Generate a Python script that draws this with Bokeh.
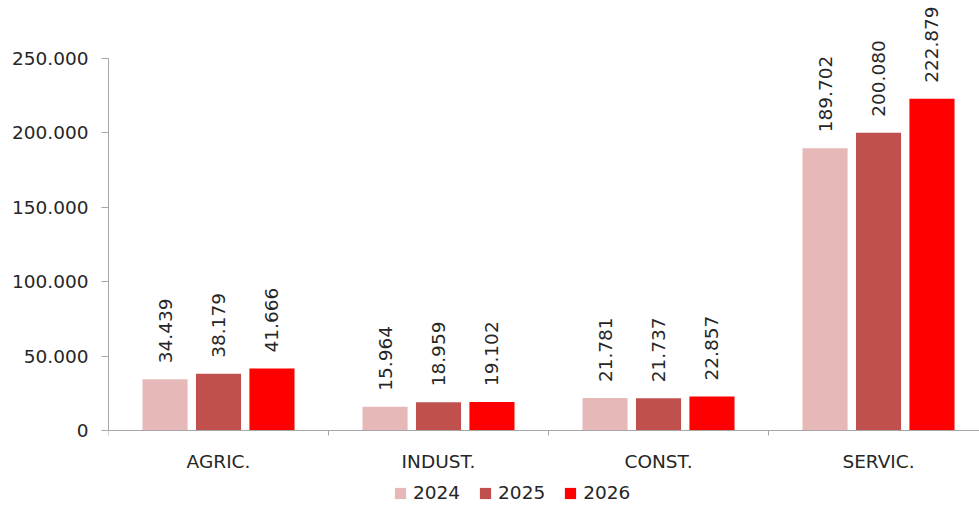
import numpy as np
from bokeh.plotting import figure
from bokeh.models import Range1d, FixedTicker, LabelSet, ColumnDataSource, Legend, LegendItem
from bokeh.transform import dodge
from bokeh.core.properties import value
from bokeh.embed import file_html
from bokeh.resources import INLINE

categories = ["AGRIC.", "INDUST.", "CONST.", "SERVIC."]
years = ["2024", "2025", "2026"]
v2024 = [34439, 15964, 21781, 189702]
v2025 = [38179, 18959, 21737, 200080]
v2026 = [41666, 19102, 22857, 222879]
colors = ["#E6B9B8", "#C0504D", "#FF0000"]
yticks = [0, 50000, 100000, 150000, 200000, 250000]
ytick_labels = ["0", "50.000", "100.000", "150.000", "200.000", "250.000"]


def fmt(v):
    return f"{v:,}".replace(",", ".")


centers = [i + 0.5 for i in range(len(categories))]
bounds = list(range(len(categories) + 1))

FONT = "DejaVu Sans"
FS = "18.5px"
TXT = "#262626"
AX = "#A6A6A6"

p = figure(width=979, height=506, output_backend="svg", toolbar_location=None,
           x_range=Range1d(0, 3.959), y_range=Range1d(-51075, 288978),
           min_border_left=108, min_border_right=0, min_border_top=0,
           min_border_bottom=0)
p.outline_line_color = None
p.grid.visible = False
p.background_fill_color = "white"
p.border_fill_color = "white"

series = [v2024, v2025, v2026]
offsets = [-0.243, 0.0, 0.243]
renderers = []
for yr, vals, col, off in zip(years, series, colors, offsets):
    src = ColumnDataSource(dict(x=centers, top=vals, lab=[fmt(v) for v in vals]))
    r = p.vbar(x=dodge("x", off), top="top", bottom=0, width=0.205, source=src,
               fill_color=col, line_color=None)
    renderers.append(r)
    labels = LabelSet(x=dodge("x", off), y="top", text="lab", source=src,
                      angle=np.pi / 2, text_align="left", text_baseline="middle",
                      y_offset=16, text_font=value(FONT), text_font_size=value(FS),
                      text_color=TXT)
    p.add_layout(labels)

# x axis drawn at y = 0 inside the frame
xa = p.xaxis[0]
xa.fixed_location = 0
xa.ticker = FixedTicker(ticks=centers, minor_ticks=bounds)
xa.major_label_overrides = {c: n for c, n in zip(centers, categories)}
xa.major_tick_line_color = None
xa.major_tick_out = 0
xa.major_tick_in = 0
xa.minor_tick_out = 5
xa.minor_tick_in = 0
xa.minor_tick_line_color = AX
xa.axis_line_color = AX
xa.major_label_standoff = 15
xa.major_label_text_font = FONT
xa.major_label_text_font_size = FS
xa.major_label_text_color = TXT

# y axis
ya = p.yaxis[0]
ya.bounds = (0, 250000)
ya.ticker = FixedTicker(ticks=yticks, minor_ticks=[])
ya.major_label_overrides = {t: l for t, l in zip(yticks, ytick_labels)}
ya.major_tick_out = 7
ya.major_tick_in = 0
ya.major_tick_line_color = AX
ya.minor_tick_line_color = None
ya.axis_line_color = AX
ya.major_label_standoff = 13
ya.major_label_text_font = FONT
ya.major_label_text_font_size = FS
ya.major_label_text_color = TXT

legend = Legend(items=[LegendItem(label=yr, renderers=[r]) for yr, r in zip(years, renderers)],
                orientation="horizontal", location=(285, 3),
                glyph_width=14, glyph_height=14, label_standoff=6, spacing=18,
                padding=0, margin=0, border_line_color=None, background_fill_alpha=0,
                label_text_font=FONT, label_text_font_size=FS, label_text_color=TXT)
p.add_layout(legend)

open("out.html", "w").write(file_html(p, INLINE))
